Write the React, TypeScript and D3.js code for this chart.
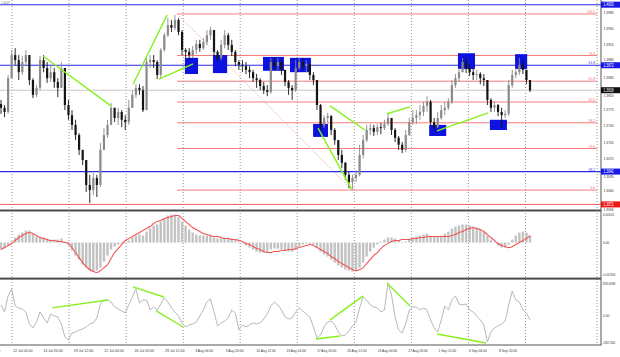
import React, { useEffect } from 'react';
import * as d3 from 'd3';

// ---------- DATA ----------
const firstOpen = 1.3788;
const closes = [
  1.3780, 1.3771, 1.3844, 1.3894, 1.3883, 1.3857, 1.3879, 1.3894, 1.3840, 1.3808,
  1.3823, 1.3883, 1.3866, 1.3844, 1.3857, 1.3836, 1.3823, 1.3866, 1.3786, 1.3764,
  1.3743, 1.3721, 1.3689, 1.3667, 1.3613, 1.3602, 1.3628, 1.3613, 1.3689, 1.3721,
  1.3743, 1.3780, 1.3758, 1.3771, 1.3754, 1.3749, 1.3780, 1.3808, 1.3823, 1.3818,
  1.3775, 1.3879, 1.3883, 1.3879, 1.3851, 1.3905, 1.3937, 1.3959, 1.3953, 1.3970,
  1.3944, 1.3905, 1.3901, 1.3894, 1.3905, 1.3918, 1.3909, 1.3922, 1.3937, 1.3948,
  1.3901, 1.3888, 1.3916, 1.3937, 1.3916, 1.3901, 1.3879, 1.3873, 1.3870, 1.3862,
  1.3857, 1.3844, 1.3840, 1.3827, 1.3818, 1.3814, 1.3879, 1.3870, 1.3879, 1.3862,
  1.3836, 1.3823, 1.3818, 1.3866, 1.3879, 1.3870, 1.3875, 1.3851, 1.3840, 1.3786,
  1.3741, 1.3758, 1.3762, 1.3732, 1.3710, 1.3678, 1.3661, 1.3635, 1.3619, 1.3628,
  1.3635, 1.3678, 1.3710, 1.3732, 1.3736, 1.3728, 1.3738, 1.3736, 1.3745, 1.3758,
  1.3732, 1.3715, 1.3700, 1.3689, 1.3721, 1.3749, 1.3758, 1.3764, 1.3771, 1.3784,
  1.3793, 1.3749, 1.3738, 1.3758, 1.3775, 1.3780, 1.3793, 1.3829, 1.3844, 1.3857,
  1.3879, 1.3866, 1.3857, 1.3851, 1.3853, 1.3844, 1.3840, 1.3797, 1.3780, 1.3786,
  1.3771, 1.3764, 1.3767, 1.3829, 1.3851, 1.3857, 1.3873, 1.3862, 1.3840, 1.3818,
];
const highs = [
  1.3797, 1.3786, 1.3851, 1.3905, 1.3909, 1.3894, 1.3892, 1.3905, 1.3894, 1.3844,
  1.3829, 1.3892, 1.3894, 1.3879, 1.3873, 1.3866, 1.3844, 1.3879, 1.3866, 1.3797,
  1.3775, 1.3754, 1.3725, 1.3689, 1.3667, 1.3635, 1.3639, 1.3635, 1.3704, 1.3736,
  1.3754, 1.3790, 1.3780, 1.3780, 1.3775, 1.3764, 1.3797, 1.3818, 1.3831, 1.3831,
  1.3827, 1.3888, 1.3894, 1.3894, 1.3883, 1.3909, 1.3942, 1.3974, 1.3970, 1.3981,
  1.3974, 1.3948, 1.3909, 1.3909, 1.3914, 1.3927, 1.3927, 1.3931, 1.3948, 1.3955,
  1.3948, 1.3905, 1.3927, 1.3948, 1.3942, 1.3927, 1.3905, 1.3883, 1.3883, 1.3879,
  1.3870, 1.3862, 1.3853, 1.3844, 1.3836, 1.3829, 1.3888, 1.3888, 1.3888, 1.3883,
  1.3862, 1.3840, 1.3829, 1.3883, 1.3888, 1.3888, 1.3883, 1.3873, 1.3857, 1.3840,
  1.3788, 1.3764, 1.3769, 1.3764, 1.3736, 1.3710, 1.3689, 1.3663, 1.3641, 1.3635,
  1.3645, 1.3700, 1.3721, 1.3743, 1.3745, 1.3743, 1.3745, 1.3747, 1.3754, 1.3769,
  1.3758, 1.3736, 1.3719, 1.3706, 1.3732, 1.3758, 1.3775, 1.3775, 1.3786, 1.3793,
  1.3805, 1.3797, 1.3758, 1.3771, 1.3786, 1.3793, 1.3801, 1.3840, 1.3853, 1.3866,
  1.3888, 1.3888, 1.3875, 1.3866, 1.3862, 1.3857, 1.3853, 1.3840, 1.3801, 1.3793,
  1.3788, 1.3780, 1.3775, 1.3840, 1.3862, 1.3866, 1.3888, 1.3883, 1.3857, 1.3840,
];
const lows = [
  1.3767, 1.3760, 1.3767, 1.3844, 1.3873, 1.3840, 1.3851, 1.3870, 1.3829, 1.3801,
  1.3803, 1.3818, 1.3857, 1.3834, 1.3836, 1.3823, 1.3803, 1.3823, 1.3775, 1.3754,
  1.3732, 1.3710, 1.3678, 1.3656, 1.3598, 1.3574, 1.3591, 1.3587, 1.3609, 1.3689,
  1.3715, 1.3743, 1.3749, 1.3743, 1.3738, 1.3732, 1.3743, 1.3780, 1.3801, 1.3808,
  1.3771, 1.3775, 1.3866, 1.3866, 1.3842, 1.3844, 1.3901, 1.3933, 1.3944, 1.3948,
  1.3937, 1.3894, 1.3888, 1.3883, 1.3888, 1.3896, 1.3901, 1.3905, 1.3916, 1.3927,
  1.3892, 1.3879, 1.3883, 1.3909, 1.3905, 1.3892, 1.3870, 1.3862, 1.3857, 1.3853,
  1.3844, 1.3836, 1.3823, 1.3818, 1.3810, 1.3805, 1.3810, 1.3862, 1.3862, 1.3851,
  1.3827, 1.3808, 1.3797, 1.3814, 1.3862, 1.3862, 1.3857, 1.3840, 1.3829, 1.3775,
  1.3732, 1.3736, 1.3749, 1.3721, 1.3700, 1.3667, 1.3650, 1.3624, 1.3606, 1.3602,
  1.3619, 1.3632, 1.3671, 1.3706, 1.3721, 1.3719, 1.3721, 1.3723, 1.3732, 1.3741,
  1.3721, 1.3706, 1.3689, 1.3682, 1.3684, 1.3719, 1.3743, 1.3745, 1.3754, 1.3762,
  1.3771, 1.3741, 1.3730, 1.3736, 1.3754, 1.3764, 1.3775, 1.3788, 1.3823, 1.3836,
  1.3857, 1.3855, 1.3849, 1.3840, 1.3840, 1.3831, 1.3827, 1.3786, 1.3771, 1.3771,
  1.3762, 1.3736, 1.3758, 1.3762, 1.3823, 1.3844, 1.3851, 1.3853, 1.3831, 1.3814,
];
const macdMain = [
  -0.00128, -0.00110, -0.00055, 0.00018, 0.00092, 0.00146, 0.00183, 0.00220, 0.00220, 0.00165,
  0.00110, 0.00092, 0.00092, 0.00073, 0.00055, 0.00055, 0.00055, 0.00073, 0.00018, -0.00055,
  -0.00146, -0.00238, -0.00311, -0.00403, -0.00458, -0.00513, -0.00531, -0.00513, -0.00458, -0.00348,
  -0.00238, -0.00128, -0.00073, -0.00037, -0.00018, 0.00000, 0.00037, 0.00092, 0.00128, 0.00146,
  0.00128, 0.00201, 0.00256, 0.00311, 0.00330, 0.00384, 0.00439, 0.00494, 0.00513, 0.00513,
  0.00476, 0.00384, 0.00311, 0.00238, 0.00183, 0.00146, 0.00128, 0.00128, 0.00128, 0.00128,
  0.00092, 0.00073, 0.00073, 0.00092, 0.00092, 0.00073, 0.00055, 0.00018, -0.00018, -0.00055,
  -0.00092, -0.00128, -0.00165, -0.00183, -0.00183, -0.00183, -0.00128, -0.00110, -0.00110, -0.00128,
  -0.00146, -0.00165, -0.00165, -0.00128, -0.00073, -0.00037, -0.00018, -0.00018, -0.00037, -0.00092,
  -0.00165, -0.00220, -0.00256, -0.00311, -0.00366, -0.00421, -0.00458, -0.00494, -0.00513, -0.00531,
  -0.00513, -0.00458, -0.00366, -0.00256, -0.00165, -0.00092, -0.00037, 0.00018, 0.00055, 0.00092,
  0.00092, 0.00073, 0.00037, 0.00000, 0.00018, 0.00055, 0.00092, 0.00110, 0.00128, 0.00146,
  0.00165, 0.00128, 0.00110, 0.00110, 0.00128, 0.00165, 0.00201, 0.00256, 0.00293, 0.00311,
  0.00330, 0.00330, 0.00311, 0.00293, 0.00275, 0.00238, 0.00201, 0.00128, 0.00055, 0.00000,
  -0.00055, -0.00092, -0.00092, -0.00037, 0.00055, 0.00128, 0.00183, 0.00201, 0.00183, 0.00128,
];
const macdSignal = [
  -0.00128, -0.00092, -0.00055, -0.00018, 0.00037, 0.00092, 0.00128, 0.00165, 0.00183, 0.00165,
  0.00128, 0.00092, 0.00073, 0.00055, 0.00037, 0.00037, 0.00018, 0.00018, 0.00000, -0.00018,
  -0.00092, -0.00183, -0.00275, -0.00366, -0.00439, -0.00494, -0.00531, -0.00549, -0.00513, -0.00458,
  -0.00403, -0.00293, -0.00183, -0.00110, -0.00037, 0.00037, 0.00073, 0.00110, 0.00146, 0.00183,
  0.00220, 0.00256, 0.00293, 0.00348, 0.00384, 0.00403, 0.00439, 0.00458, 0.00476, 0.00494,
  0.00494, 0.00439, 0.00384, 0.00330, 0.00275, 0.00238, 0.00201, 0.00165, 0.00146, 0.00128,
  0.00110, 0.00110, 0.00092, 0.00073, 0.00073, 0.00055, 0.00055, 0.00037, 0.00018, -0.00018,
  -0.00037, -0.00073, -0.00110, -0.00128, -0.00165, -0.00183, -0.00183, -0.00165, -0.00165, -0.00146,
  -0.00146, -0.00128, -0.00128, -0.00110, -0.00092, -0.00073, -0.00055, -0.00037, -0.00055, -0.00092,
  -0.00128, -0.00165, -0.00201, -0.00256, -0.00293, -0.00348, -0.00384, -0.00421, -0.00458, -0.00494,
  -0.00513, -0.00494, -0.00458, -0.00384, -0.00311, -0.00238, -0.00183, -0.00110, -0.00055, -0.00018,
  0.00018, 0.00037, 0.00037, 0.00055, 0.00055, 0.00055, 0.00073, 0.00073, 0.00092, 0.00092,
  0.00110, 0.00110, 0.00110, 0.00110, 0.00110, 0.00110, 0.00110, 0.00128, 0.00146, 0.00183,
  0.00201, 0.00238, 0.00256, 0.00275, 0.00256, 0.00238, 0.00201, 0.00146, 0.00092, 0.00037,
  -0.00018, -0.00055, -0.00073, -0.00092, -0.00073, -0.00037, 0.00000, 0.00037, 0.00073, 0.00128,
];
const cciValues = [
  116, 43, 209, 281, 105, 85, 74, 43, -81, -122,
  -60, 43, -19, -70, 23, 2, -8, -81, -215, -246,
  -174, -163, -143, -132, -112, -81, -70, -19, 126, 167,
  167, 147, 95, 74, 54, 33, 116, 198, 281, 136,
  167, 167, 64, 95, 64, 126, 188, 147, 85, 43,
  2, -70, -112, -91, -81, -60, 2, 64, 147, 178,
  43, -101, -70, -50, -19, 64, 33, -143, -91, -112,
  -91, -70, -81, -70, -29, 23, 105, 147, 116, 64,
  -8, -29, -19, 43, 85, 54, 23, -8, -112, -225,
  -194, -112, -60, -50, -91, -163, -205, -194, -153, -101,
  -60, 85, 198, 167, 116, 95, 85, 43, 64, 343,
  219, -8, -143, -174, -81, 64, 95, 95, 64, 85,
  64, -39, -122, -163, -39, 105, 64, 167, 209, 126,
  116, 126, 64, 43, 2, -39, -91, -267, -163, -122,
  -101, -81, -50, 116, 260, 167, 147, 64, 33, -39,
];

const dateLabels = [
  '9 Jul 12:00', '12 Jul 04:00', '14 Jul 20:00', '19 Jul 12:00', '22 Jul 04:00', '26 Jul 20:00',
  '29 Jul 12:00', '3 Aug 04:00', '5 Aug 20:00', '10 Aug 12:00', '13 Aug 04:00', '17 Aug 20:00',
  '20 Aug 12:00', '25 Aug 04:00', '27 Aug 20:00', '1 Sep 12:00', '6 Sep 04:00', '8 Sep 20:00',
];
const dateLabelBars = [-5.2, 3.4, 11.9, 20.5, 29.1, 37.6, 46.2, 54.7, 63.3, 71.9, 80.4, 89.0, 97.5, 106.1, 114.7, 123.2, 131.8, 140.3];
const gridBars = [3.1, 19.17, 35.24, 51.31, 67.38, 83.45, 99.52, 115.59, 131.66, 147.73];
const shiftBar = 167.9;

const priceTicks = [1.3985, 1.395, 1.3915, 1.388, 1.3845, 1.381, 1.3775, 1.374, 1.3705, 1.367, 1.3635, 1.36, 1.3565];
const fibHigh = 1.3983;
const fibLow = 1.3602;
const fibStartBar = 49.6;
const fibEndBar = 98.9;
const fibLevels = [100, 76.4, 61.8, 50, 38.2, 23.6, 0];
const blueLevels = [1.4003, 1.3872, 1.3642];
const blueLevelTags = ['', '61.8', '38.2'];
const redLevel = 1.3571;

// [barFrom, barTo, priceTop, priceBottom]
const zoneBoxes = [
  [51.8, 55.5, 1.3888, 1.3853],
  [59.7, 63.7, 1.3894, 1.3855],
  [73.8, 79.7, 1.3890, 1.3860],
  [81.4, 87.3, 1.3888, 1.3857],
  [87.9, 92.1, 1.3745, 1.3717],
  [120.6, 125.4, 1.3743, 1.3719],
  [128.7, 133.5, 1.3898, 1.3864],
  [137.7, 142.5, 1.3754, 1.3732],
  [144.8, 148.2, 1.3896, 1.3864],
];
// [bar1, price1, bar2, price2]
const priceTrendLines = [
  [11.8, 1.3892, 31.0, 1.3784],
  [37.2, 1.3831, 46.8, 1.3981],
  [44.5, 1.3842, 54.1, 1.3875],
  [89.3, 1.3736, 98.9, 1.3602],
  [92.7, 1.3784, 102.5, 1.3732],
  [108.7, 1.3767, 115.2, 1.3782],
  [122.8, 1.3730, 137.2, 1.3769],
];
// [bar1, cci1, bar2, cci2]
const cciTrendLines = [
  [14.4, 85, 30.1, 167],
  [37.2, 302, 45.9, 198],
  [43.7, 54, 51.3, -112],
  [88.7, -236, 95.5, -205],
  [92.7, -39, 102.0, 209],
  [108.7, 343, 115.2, 105],
  [122.8, -184, 136.6, -278],
];
const macdRange = [-0.00594, 0.00541];
const cciRange = [-282.56, 358.0698];

// ---------- LAYOUT ----------
const W = 620;
const H = 357;
const PR = 601; // plot right edge
const FONT = "'Liberation Sans', Arial, sans-serif";

const x = d3.scaleLinear().domain([0, closes.length - 1]).range([1, 530]);
const yP = d3.scaleLinear().domain([1.36, 1.3985]).range([191, 13]);
const yM = d3.scaleLinear().domain(macdRange).range([275, 213]);
const yC = d3.scaleLinear().domain(cciRange).range([343.5, 281.5]);
const f4 = d3.format('.4f');

function Txt({ x, y, s, size = 4.6, fill = '#333', anchor = 'start', per = 1.7 }: any) {
  return (
    <text
      x={x}
      y={y}
      fontSize={size}
      fill={fill}
      textAnchor={anchor}
      dominantBaseline="middle"
      fontFamily={FONT}
      textLength={s.length * per}
      lengthAdjust="spacingAndGlyphs"
    >
      {s}
    </text>
  );
}

function Tag({ y, s, bg }: any) {
  return (
    <g>
      <rect x={PR} y={y - 3} width={W - PR} height={6} fill={bg} />
      <Txt x={603.5} y={y + 0.2} s={s} fill="#fff" />
    </g>
  );
}

export default function App() {
  useEffect(() => {
    document.body.style.margin = '0';
  }, []);

  const opens = closes.map((c, i) => (i === 0 ? firstOpen : closes[i - 1]));
  const fibPrice = (lv: number) => fibLow + ((fibHigh - fibLow) * lv) / 100;
  const lastClose = closes[closes.length - 1];

  const tagYs = [...blueLevels, lastClose, redLevel].map((p) => yP(p));
  const tickY = (p: number) => {
    let y = yP(p);
    for (const ty of tagYs) {
      if (Math.abs(y - ty) < 5.2) y = y < ty ? ty - 5.2 : ty + 5.2;
    }
    return y;
  };

  const signalLine = d3
    .line<number>()
    .x((_, i) => x(i))
    .y((d) => yM(d))
    .curve(d3.curveMonotoneX);
  const cciLine = d3
    .line<number>()
    .x((_, i) => x(i))
    .y((d) => yC(d));

  return (
    <svg
      width={W}
      height={H}
      style={{ position: 'absolute', left: 0, top: 0, display: 'block', background: '#fff' }}
    >
      <defs>
        <clipPath id="cMain"><rect x={0} y={0} width={PR} height={209.5} /></clipPath>
        <clipPath id="cMacd"><rect x={0} y={212} width={PR} height={65.5} /></clipPath>
        <clipPath id="cCci"><rect x={0} y={280} width={PR} height={64.5} /></clipPath>
      </defs>
      <rect x={0} y={0} width={W} height={H} fill="#fff" />

      {/* vertical dotted grid */}
      {gridBars.map((b, i) => (
        <line key={'g' + i} x1={x(b)} x2={x(b)} y1={0} y2={345} stroke="#7a7a7a" strokeWidth={0.8} strokeDasharray="1,2" />
      ))}
      <line x1={x(shiftBar)} x2={x(shiftBar)} y1={0} y2={345} stroke="#7a7a7a" strokeWidth={0.8} strokeDasharray="1,2" />

      <g clipPath="url(#cMain)">
        {/* current price line */}
        <line x1={0} x2={PR} y1={yP(lastClose)} y2={yP(lastClose)} stroke="#c8c8c8" strokeWidth={1} />
        {/* fib */}
        {fibLevels.map((lv, i) => (
          <line key={'f' + i} x1={x(fibStartBar)} x2={x(shiftBar)} y1={yP(fibPrice(lv))} y2={yP(fibPrice(lv))} stroke="#f47c7c" strokeWidth={1} />
        ))}
        <line
          x1={x(fibStartBar)}
          y1={yP(fibHigh)}
          x2={x(fibEndBar)}
          y2={yP(fibLow)}
          stroke="#f29a9a"
          strokeWidth={0.9}
          strokeDasharray="1.5,1.5"
        />
        {fibLevels.map((lv, i) => (
          <Txt key={'ft' + i} x={595} y={yP(fibPrice(lv)) - 2} s={lv.toFixed(1)} fill="#f07070" anchor="end" size={4.2} per={1.6} />
        ))}
        {/* horizontal levels */}
        <line x1={0} x2={PR} y1={yP(redLevel)} y2={yP(redLevel)} stroke="#f05a5a" strokeWidth={1} />
        {blueLevels.map((p, i) => (
          <line key={'b' + i} x1={0} x2={PR} y1={yP(p)} y2={yP(p)} stroke="#2a2ae6" strokeWidth={1.1} />
        ))}
        {blueLevelTags.map((t, i) =>
          t ? <Txt key={'bt' + i} x={595} y={yP(blueLevels[i]) - 2} s={t} fill="#3a3af0" anchor="end" size={4.2} per={1.6} /> : null
        )}
        {/* zone boxes */}
        {zoneBoxes.map((b, i) => (
          <rect key={'z' + i} x={x(b[0])} y={yP(b[2])} width={x(b[1]) - x(b[0])} height={yP(b[3]) - yP(b[2])} fill="#0c12e0" />
        ))}
        {/* candles */}
        {closes.map((c, i) => {
          const o = opens[i];
          const h = Math.max(highs[i], o, c);
          const l = Math.min(lows[i], o, c);
          const bull = c >= o;
          const col = bull ? '#8a8a8a' : '#151515';
          const cx = x(i);
          const top = yP(Math.max(o, c));
          const bh = Math.max(0.9, Math.abs(yP(o) - yP(c)));
          return (
            <g key={'k' + i}>
              <line x1={cx} x2={cx} y1={yP(h)} y2={yP(l)} stroke={col} strokeWidth={0.9} />
              <rect x={cx - 1.1} y={top} width={2.2} height={bh} fill={col} />
            </g>
          );
        })}
        {/* trend lines */}
        {priceTrendLines.map((t, i) => (
          <line key={'t' + i} x1={x(t[0])} y1={yP(t[1])} x2={x(t[2])} y2={yP(t[3])} stroke="#86f01e" strokeWidth={1.4} />
        ))}
      </g>

      {/* MACD */}
      <g clipPath="url(#cMacd)">
        {macdMain.map((v, i) => (
          <rect
            key={'m' + i}
            x={x(i) - 1.2}
            y={Math.min(yM(v), yM(0))}
            width={2.4}
            height={Math.max(0.5, Math.abs(yM(v) - yM(0)))}
            fill="#c2c2c2"
          />
        ))}
        <path d={signalLine(macdSignal) || ''} fill="none" stroke="#f25555" strokeWidth={1.1} />
      </g>

      {/* CCI */}
      <g clipPath="url(#cCci)">
        <path d={cciLine(cciValues) || ''} fill="none" stroke="#b8b8b8" strokeWidth={1} />
        {cciTrendLines.map((t, i) => (
          <line key={'ct' + i} x1={x(t[0])} y1={yC(t[1])} x2={x(t[2])} y2={yC(t[3])} stroke="#86f01e" strokeWidth={1.4} />
        ))}
      </g>

      {/* separators & borders */}
      <rect x={0} y={209.5} width={PR} height={2} fill="#4a4a4a" />
      <rect x={0} y={277.6} width={PR} height={2} fill="#4a4a4a" />
      <line x1={0} x2={PR + 0.5} y1={345} y2={345} stroke="#555" strokeWidth={1} />
      <line x1={PR} x2={PR} y1={0} y2={345} stroke="#555" strokeWidth={1} />

      {/* price axis */}
      {priceTicks.map((p, i) => (
        <Txt key={'pt' + i} x={603.5} y={tickY(p)} s={f4(p)} fill="#3a3a3a" size={4.2} />
      ))}
      {blueLevels.map((p, i) => (
        <Tag key={'bl' + i} y={Math.max(3, yP(p))} s={f4(p)} bg="#1818e8" />
      ))}
      <Tag y={yP(lastClose)} s={f4(lastClose)} bg="#111" />
      <Tag y={yP(redLevel)} s={f4(redLevel)} bg="#f01818" />

      {/* indicator axes */}
      <Txt x={603} y={yM(macdRange[1]) + 2.2} s={'0.00541'} fill="#3a3a3a" size={4.0} per={1.6} />
      <Txt x={603} y={yM(0)} s={'0.00'} fill="#3a3a3a" size={4.2} per={1.6} />
      <Txt x={602.5} y={yM(macdRange[0])} s={'-0.00594'} fill="#3a3a3a" size={4.0} per={1.6} />
      <Txt x={602.5} y={yC(cciRange[1]) + 2.5} s={'358.0698'} fill="#3a3a3a" size={4.0} per={1.6} />
      <Txt x={603} y={yC(0)} s={'0.00'} fill="#3a3a3a" size={4.2} per={1.6} />
      <Txt x={602.5} y={yC(cciRange[0]) - 0.5} s={'-282.560'} fill="#3a3a3a" size={4.0} per={1.6} />

      {/* time axis */}
      {dateLabels.map((s, i) => (
        <Txt key={'d' + i} x={x(dateLabelBars[i])} y={351} s={s} fill="#3a3a3a" size={4.4} per={1.62} />
      ))}
      <Txt x={1} y={3} s={'1.4007'} fill="#777" size={4} per={1.5} />
    </svg>
  );
}
